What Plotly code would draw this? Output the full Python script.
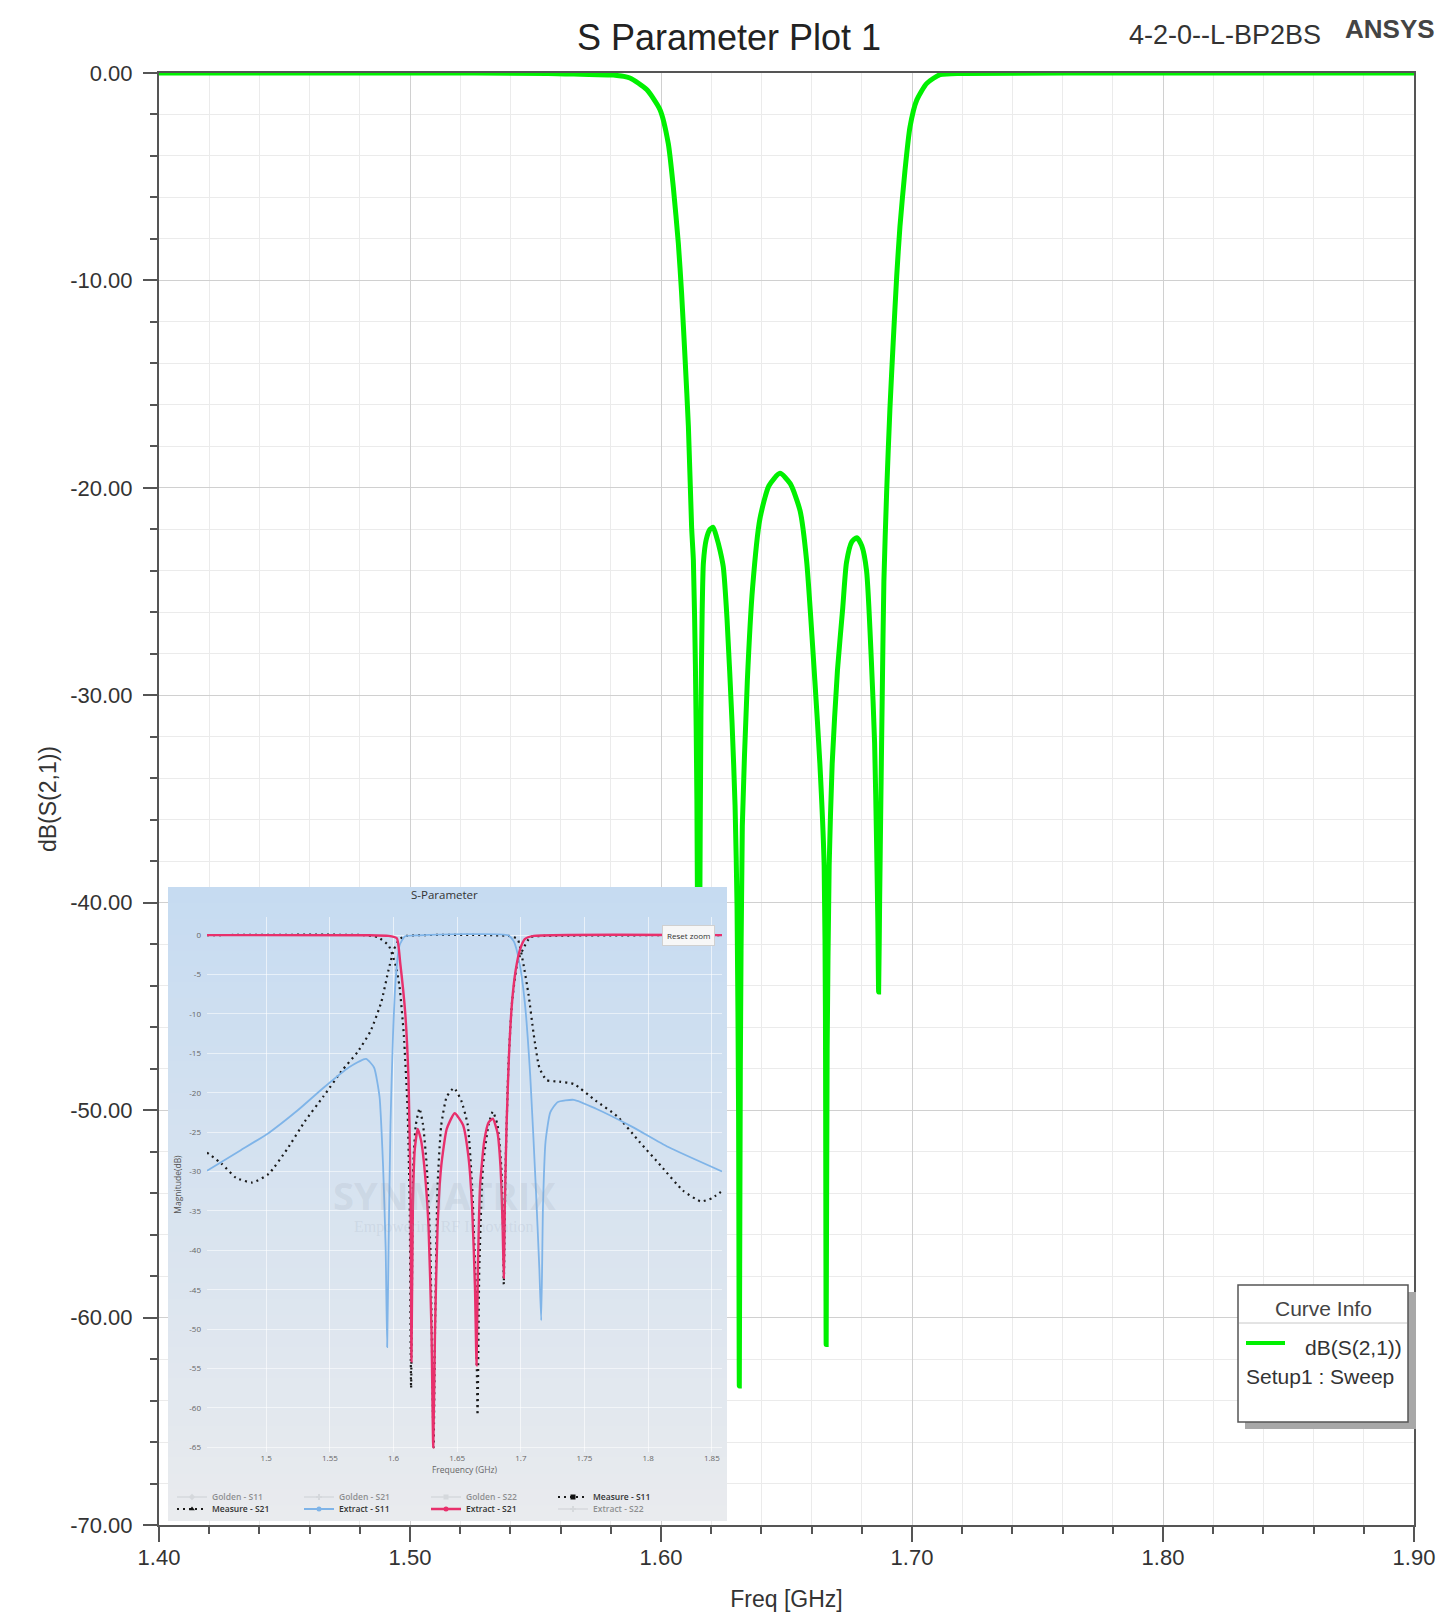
import plotly.graph_objects as go

# ---------------- data ----------------
# Main ANSYS plot: dB(S(2,1)) vs frequency
main_freq_ghz = [1.400, 1.500, 1.555, 1.568, 1.581, 1.5876, 1.5943, 1.5996, 1.6029, 1.6049,
                 1.6069, 1.6082, 1.6096, 1.6109, 1.6122, 1.6129, 1.6137, 1.6143, 1.6147, 1.6150,
                 1.6154, 1.6159, 1.6164, 1.6169, 1.6180, 1.6195, 1.6208, 1.6222, 1.6235, 1.6248,
                 1.6263, 1.6283, 1.6295, 1.6303, 1.6309, 1.6312, 1.6316, 1.6324, 1.6344, 1.6365,
                 1.6394, 1.6430, 1.6474, 1.6515, 1.6554, 1.6580, 1.6613, 1.6633, 1.6650, 1.6655,
                 1.6658, 1.6662, 1.6670, 1.6682, 1.6703, 1.6724, 1.6739, 1.6760, 1.6780, 1.6800,
                 1.6819, 1.6838, 1.6851, 1.6859, 1.6864, 1.6867, 1.6871, 1.6876, 1.6882, 1.6888,
                 1.6899, 1.6912, 1.6925, 1.6939, 1.6952, 1.6972, 1.6992, 1.7019, 1.7059, 1.7112,
                 1.7200, 1.8000, 1.9000]
main_s21_db = [0, 0, -0.02, -0.06, -0.10, -0.24, -0.8, -1.77, -3.4, -5.5,
               -8.2, -10.6, -13.8, -17.0, -21.9, -23.5, -28.5, -35.0, -45.0, -57.5,
               -42.0, -31.0, -26.0, -23.6, -22.5, -22.0, -21.9, -22.4, -23.0, -23.8,
               -26.3, -31.3, -35.3, -40.2, -50.0, -63.3, -48.0, -36.3, -29.3, -24.8,
               -21.5, -19.9, -19.3, -19.8, -21.1, -23.5, -29.3, -33.3, -38.2, -45.0,
               -61.3, -47.0, -38.2, -33.3, -28.8, -25.8, -23.6, -22.6, -22.4, -22.8,
               -24.0, -28.3, -32.3, -37.2, -41.0, -44.3, -40.0, -35.0, -29.5, -24.5,
               -20.2, -16.2, -13.0, -9.8, -7.4, -4.7, -2.6, -1.3, -0.5, -0.08,
               -0.02, 0, 0]

main_x_ticks = [1.40, 1.50, 1.60, 1.70, 1.80, 1.90]
main_x_ticklabels = ["1.40", "1.50", "1.60", "1.70", "1.80", "1.90"]
main_y_ticks = [0, -10, -20, -30, -40, -50, -60, -70]
main_y_ticklabels = ["0.00", "-10.00", "-20.00", "-30.00", "-40.00", "-50.00", "-60.00", "-70.00"]

# Inset "S-Parameter" chart
ext_s11_freq = [1.4535, 1.4800, 1.5020, 1.5250, 1.5448, 1.5648, 1.5784, 1.5847, 1.5890, 1.5918,
                1.5938, 1.5950, 1.5961, 1.5976, 1.5996, 1.6018, 1.6047, 1.6090, 1.6200, 1.6900,
                1.6945, 1.6988, 1.7031, 1.7074, 1.7117, 1.7145, 1.7160, 1.7174, 1.7194, 1.7231,
                1.7288, 1.7416, 1.7587, 1.7872, 1.8158, 1.8580]
ext_s11_db = [-29.9, -27.3, -25.1, -22.2, -19.4, -16.8, -15.7, -16.8, -20.5, -29.3,
              -39.6, -52.3, -39.6, -24.1, -12.7, -5.4, -1.3, -0.15, -0.02, -0.02,
              -0.8, -3.4, -8.5, -17.9, -31.8, -42.2, -48.9, -34.4, -26.2, -22.5,
              -21.2, -20.9, -22.0, -24.3, -26.9, -30.0]

ext_s21_freq = [1.4535, 1.5800, 1.5960, 1.6026, 1.6053, 1.6092, 1.6118, 1.6133, 1.6141, 1.6152,
                1.6167, 1.6190, 1.6218, 1.6247, 1.6275, 1.6298, 1.6312, 1.6326, 1.6346, 1.6375,
                1.6418, 1.6480, 1.6546, 1.6589, 1.6617, 1.6640, 1.6652, 1.6663, 1.6680, 1.6712,
                1.6746, 1.6780, 1.6817, 1.6840, 1.6857, 1.6866, 1.6874, 1.6888, 1.6908, 1.6931,
                1.6960, 1.6994, 1.7031, 1.7102, 1.8580]
ext_s21_db = [0, -0.02, -0.1, -0.4, -3.6, -9.9, -18.4, -32.0, -54.1, -34.4,
              -27.2, -24.6, -26.2, -30.3, -37.0, -50.0, -65.0, -50.0, -37.0, -29.3,
              -24.6, -22.6, -24.1, -28.2, -34.4, -44.8, -54.6, -42.2, -31.8, -26.2,
              -23.8, -23.3, -25.1, -29.3, -37.0, -43.5, -34.4, -24.1, -14.8, -8.5,
              -4.4, -1.8, -0.5, -0.1, 0]

meas_s21_freq = [1.4535, 1.5762, 1.5876, 1.5961, 1.6018, 1.6047, 1.6081, 1.6110, 1.6127, 1.6138,
                 1.6155, 1.6175, 1.6204, 1.6232, 1.6261, 1.6289, 1.6309, 1.6315, 1.6326, 1.6346,
                 1.6375, 1.6418, 1.6475, 1.6532, 1.6583, 1.6617, 1.6646, 1.6660, 1.6674, 1.6703,
                 1.6746, 1.6780, 1.6817, 1.6846, 1.6860, 1.6866, 1.6880, 1.6903, 1.6931, 1.6974,
                 1.7017, 1.7074, 1.7188, 1.8580]
meas_s21_db = [0, 0, -0.26, -1.3, -3.9, -6.5, -12.7, -22.0, -34.4, -57.5,
               -29.3, -24.1, -22.0, -24.1, -29.3, -39.6, -60.3, -65.0, -50.0, -31.8,
               -24.1, -20.5, -19.4, -21.0, -24.1, -31.8, -44.8, -60.9, -42.2, -29.3,
               -24.1, -22.4, -24.1, -29.3, -37.0, -44.3, -29.3, -16.3, -8.5, -3.4,
               -1.8, -0.26, -0.1, 0]

meas_s11_freq = [1.4535, 1.4649, 1.4763, 1.4892, 1.5020, 1.5163, 1.5305, 1.5448, 1.5590, 1.5719,
                 1.5819, 1.5904, 1.5961, 1.6004, 1.6047, 1.6104, 1.6903, 1.6974, 1.7017, 1.7060,
                 1.7102, 1.7145, 1.7202, 1.7302, 1.7416, 1.7587, 1.7758, 1.7930, 1.8101, 1.8272,
                 1.8414, 1.8500, 1.8571]
meas_s11_db = [-27.6, -29.0, -30.8, -31.4, -30.3, -27.2, -23.6, -20.5, -17.3, -14.8,
               -12.2, -8.5, -4.4, -1.8, -0.5, -0.1, -0.1, -0.5, -3.4, -7.5,
               -12.7, -16.8, -18.4, -18.6, -18.9, -21.0, -23.0, -26.2, -29.3, -32.4,
               -33.8, -33.4, -32.6]

inset_x_ticks = [1.50, 1.55, 1.60, 1.65, 1.70, 1.75, 1.80, 1.85]
inset_x_ticklabels = ["1.5", "1.55", "1.6", "1.65", "1.7", "1.75", "1.8", "1.85"]
inset_y_ticks = [0, -5, -10, -15, -20, -25, -30, -35, -40, -45, -50, -55, -60, -65]
inset_y_ticklabels = ["0", "-5", "-10", "-15", "-20", "-25", "-30", "-35", "-40", "-45",
                      "-50", "-55", "-60", "-65"]

# ---------------- geometry helpers (pixels -> paper) ----------------
W, H = 1439, 1617
PL, PR, PT, PB = 159, 1414, 73, 1525


def fx(px):
    return (px - PL) / (PR - PL)


def fy(py):
    return (PB - py) / (PB - PT)


MAIN_FONT = "Liberation Sans, Arial, sans-serif"
INSET_FONT = "Open Sans, sans-serif"

fig = go.Figure()

# main curve
fig.add_trace(go.Scatter(x=main_freq_ghz, y=main_s21_db, mode="lines", name="dB(S(2,1))",
                         line=dict(color="#00f000", width=5, shape="spline", smoothing=0.6),
                         showlegend=False, xaxis="x", yaxis="y", hoverinfo="x+y"))

# empty trace to create the inset panel subplot (background)
fig.add_trace(go.Scatter(x=[], y=[], xaxis="x2", yaxis="y2", showlegend=False, hoverinfo="skip"))

# styles of the inset series
GHOST = "#c4c8cc"
MEAS_LINE = dict(color="#1a1a1a", width=2.2, dash="2px,4px")
S11_LINE = dict(color="#7fb4e8", width=1.8)
S21_LINE = dict(color="#e8306c", width=2.4)

# inset data series (drawn in legend order, entries shown through legend items below)
fig.add_trace(go.Scatter(x=meas_s11_freq, y=meas_s11_db, name="Measure - S11", legendgroup="m11",
                         showlegend=False, mode="lines", line=dict(**MEAS_LINE, shape="spline", smoothing=0.5),
                         xaxis="x3", yaxis="y3"))
fig.add_trace(go.Scatter(x=meas_s21_freq, y=meas_s21_db, name="Measure - S21", legendgroup="m21",
                         showlegend=False, mode="lines", line=dict(**MEAS_LINE, shape="spline", smoothing=0.5),
                         xaxis="x3", yaxis="y3"))
fig.add_trace(go.Scatter(x=ext_s11_freq, y=ext_s11_db, name="Extract - S11", legendgroup="e11",
                         showlegend=False, mode="lines", line=dict(**S11_LINE, shape="spline", smoothing=0.5),
                         xaxis="x3", yaxis="y3"))
fig.add_trace(go.Scatter(x=ext_s21_freq, y=ext_s21_db, name="Extract - S21", legendgroup="e21",
                         showlegend=False, mode="lines", line=dict(**S21_LINE, shape="spline", smoothing=0.5),
                         xaxis="x3", yaxis="y3"))

# inset legend entries (row 1 -> legend2, row 2 -> legend3)
legend_items = [
    ("Golden - S11", "legendonly", "legend2", "g11", dict(color=GHOST, width=1.5), "diamond", GHOST),
    ("Golden - S21", "legendonly", "legend2", "g21", dict(color=GHOST, width=1.5), "cross", GHOST),
    ("Golden - S22", "legendonly", "legend2", "g22", dict(color=GHOST, width=1.5), "square", GHOST),
    ("Measure - S11", True, "legend2", "m11", MEAS_LINE, "square", "#111"),
    ("Measure - S21", True, "legend3", "m21", MEAS_LINE, "triangle-up", "#111"),
    ("Extract - S11", True, "legend3", "e11", S11_LINE, "circle", "#7fb4e8"),
    ("Extract - S21", True, "legend3", "e21", S21_LINE, "circle", "#e8306c"),
    ("Extract - S22", "legendonly", "legend3", "e22", dict(color=GHOST, width=1.5), "cross", GHOST),
]
for name, vis, leg, grp, line, sym, mcol in legend_items:
    fig.add_trace(go.Scatter(x=[None], y=[None], name=name, visible=vis, legend=leg, legendgroup=grp,
                             mode="lines+markers", line=line,
                             marker=dict(symbol=sym, size=5, color=mcol),
                             xaxis="x3", yaxis="y3", hoverinfo="skip"))

# ---------------- shapes ----------------
shapes = []
# inset gradient background (drawn in the inset panel subplot)
N = 40
top_rgb = (198, 219, 241)
bot_rgb = (233, 235, 238)
for i in range(N):
    y0 = i / N
    y1 = min(1.0, (i + 1) / N + 0.002)
    t = (i + 0.5) / N  # 0 at bottom, 1 at top
    c = tuple(round(bot_rgb[k] + (top_rgb[k] - bot_rgb[k]) * t) for k in range(3))
    shapes.append(dict(type="rect", xref="x2", yref="y2", x0=0, x1=1, y0=y0, y1=y1,
                       fillcolor="rgb(%d,%d,%d)" % c, line=dict(width=0), layer="below"))

# "Curve Info" legend box
shapes.append(dict(type="rect", xref="paper", yref="paper", x0=fx(1245), x1=fx(1416),
                   y0=fy(1429), y1=fy(1292), fillcolor="#a8a8a8", line=dict(width=0), layer="above"))
shapes.append(dict(type="rect", xref="paper", yref="paper", x0=fx(1238), x1=fx(1408),
                   y0=fy(1422), y1=fy(1285), fillcolor="white", line=dict(color="#555", width=1.5),
                   layer="above"))
shapes.append(dict(type="line", xref="paper", yref="paper", x0=fx(1239), x1=fx(1407),
                   y0=fy(1323), y1=fy(1323), line=dict(color="#c8c8c8", width=1), layer="above"))
shapes.append(dict(type="line", xref="paper", yref="paper", x0=fx(1246), x1=fx(1285),
                   y0=fy(1343), y1=fy(1343), line=dict(color="#00f000", width=4), layer="above"))

# ---------------- annotations ----------------
ann = []
ann.append(dict(text="4-2-0--L-BP2BS", xref="paper", yref="paper", x=fx(1127), y=fy(35),
                xanchor="left", yanchor="middle", showarrow=False,
                font=dict(family=MAIN_FONT, size=27, color="#333")))
ann.append(dict(text="<b>ANSYS</b>", xref="paper", yref="paper", x=fx(1343), y=fy(29),
                xanchor="left", yanchor="middle", showarrow=False,
                font=dict(family=MAIN_FONT, size=26, color="#444")))
ann.append(dict(text="Curve Info", xref="paper", yref="paper", x=fx(1323), y=fy(1308),
                xanchor="center", yanchor="middle", showarrow=False,
                font=dict(family=MAIN_FONT, size=21, color="#444")))
ann.append(dict(text="dB(S(2,1))", xref="paper", yref="paper", x=fx(1404), y=fy(1347),
                xanchor="right", yanchor="middle", showarrow=False,
                font=dict(family=MAIN_FONT, size=21, color="#333")))
ann.append(dict(text="Setup1 : Sweep", xref="paper", yref="paper", x=fx(1244), y=fy(1376),
                xanchor="left", yanchor="middle", showarrow=False,
                font=dict(family=MAIN_FONT, size=21, color="#333")))
# inset texts
ann.append(dict(text="S-Parameter", xref="paper", yref="paper", x=fx(444), y=fy(894),
                xanchor="center", yanchor="middle", showarrow=False,
                font=dict(family=INSET_FONT, size=11.5, color="#333")))
ann.append(dict(text="<b>SYNMATRIX</b>", xref="paper", yref="paper", x=fx(444), y=fy(1195),
                xanchor="center", yanchor="middle", showarrow=False,
                font=dict(family=INSET_FONT, size=38, color="rgba(150,160,175,0.18)")))
ann.append(dict(text="Empowering RF Innovation", xref="paper", yref="paper", x=fx(444), y=fy(1227),
                xanchor="center", yanchor="middle", showarrow=False,
                font=dict(family="Liberation Serif, serif", size=16, color="rgba(150,160,175,0.18)")))
ann.append(dict(text="Reset zoom", xref="paper", yref="paper", x=fx(688), y=fy(935),
                xanchor="center", yanchor="middle", showarrow=False,
                bgcolor="#f7f7f7", bordercolor="#d0d0d0", borderwidth=1, borderpad=4,
                font=dict(family=INSET_FONT, size=8, color="#333")))

inset_tickfont = dict(family=INSET_FONT, size=8, color="#666")
legend_common = dict(orientation="h", xanchor="left", yanchor="middle", bgcolor="rgba(0,0,0,0)",
                     borderwidth=0, font=dict(family=INSET_FONT, size=8.5, color="#333", weight=600),
                     entrywidth=82, entrywidthmode="pixels", itemwidth=30, traceorder="normal",
                     tracegroupgap=0, itemclick=False, itemdoubleclick=False)

fig.update_layout(
    width=W, height=H, autosize=False,
    margin=dict(l=PL, r=W - PR, t=PT, b=H - PB, pad=0),
    paper_bgcolor="white", plot_bgcolor="rgba(0,0,0,0)",
    font=dict(family=MAIN_FONT, size=22, color="#333"),
    title=dict(text="S Parameter Plot 1", xref="container", yref="container",
               x=729 / W, xanchor="center", y=1 - 37 / H, yanchor="middle",
               font=dict(family=MAIN_FONT, size=36, color="#222")),
    showlegend=True,
    legend=dict(visible=False),
    legend2=dict(x=fx(172), y=fy(1497), **legend_common),
    legend3=dict(x=fx(172), y=fy(1509), **legend_common),
    xaxis=dict(domain=[0, 1], range=[1.4, 1.9], anchor="y",
               tickmode="array", tickvals=main_x_ticks, ticktext=main_x_ticklabels,
               ticks="outside", ticklen=15, tickwidth=2, tickcolor="#555",
               tickfont=dict(size=22, color="#333"), ticklabelstandoff=-3,
               showline=True, linecolor="#555", linewidth=2, mirror=True,
               showgrid=True, gridcolor="#d0d0d0", gridwidth=1, zeroline=False,
               minor=dict(tickmode="linear", tick0=1.4, dtick=0.02, ticks="outside", ticklen=7,
                          tickwidth=1.5, tickcolor="#555", showgrid=True, gridcolor="#ebebeb",
                          gridwidth=1),
               title=dict(text="Freq [GHz]", font=dict(size=23, color="#333"), standoff=21),
               automargin=False, fixedrange=True),
    yaxis=dict(domain=[0, 1], range=[-70, 0], anchor="x",
               tickmode="array", tickvals=main_y_ticks, ticktext=main_y_ticklabels,
               ticks="outside", ticklen=14, tickwidth=2, tickcolor="#555",
               tickfont=dict(size=22, color="#333"), ticklabelstandoff=6,
               showline=True, linecolor="#555", linewidth=2, mirror=True,
               showgrid=True, gridcolor="#d0d0d0", gridwidth=1, zeroline=False,
               minor=dict(tickmode="linear", tick0=0, dtick=2, ticks="outside", ticklen=7,
                          tickwidth=1.5, tickcolor="#555", showgrid=True, gridcolor="#ebebeb",
                          gridwidth=1),
               title=dict(text="dB(S(2,1))", font=dict(size=23, color="#333"), standoff=7),
               automargin=False, fixedrange=True),
    xaxis2=dict(domain=[fx(168), fx(727)], range=[0, 1], anchor="y2", visible=False, fixedrange=True),
    yaxis2=dict(domain=[fy(1521), fy(887)], range=[0, 1], anchor="x2", visible=False, fixedrange=True),
    xaxis3=dict(domain=[fx(207), fx(722)], range=[1.4535, 1.858], anchor="y3",
                tickmode="array", tickvals=inset_x_ticks, ticktext=inset_x_ticklabels,
                ticks="", showline=False, zeroline=False, showgrid=True,
                gridcolor="rgba(255,255,255,0.6)", gridwidth=1, tickfont=inset_tickfont,
                ticklabelstandoff=0,
                title=dict(text="Frequency (GHz)", font=dict(family=INSET_FONT, size=8.5, color="#666"),
                           standoff=5),
                automargin=False, fixedrange=True),
    yaxis3=dict(domain=[fy(1452), fy(917)], range=[-65.6, 2.3], anchor="x3",
                tickmode="array", tickvals=inset_y_ticks, ticktext=inset_y_ticklabels,
                ticks="", showline=False, zeroline=False, showgrid=True,
                gridcolor="rgba(255,255,255,0.55)", gridwidth=1, tickfont=inset_tickfont,
                ticklabelstandoff=5,
                title=dict(text="Magnitude(dB)", font=dict(family=INSET_FONT, size=8.5, color="#555"),
                           standoff=6),
                automargin=False, fixedrange=True),
    shapes=shapes,
    annotations=ann,
)

fig.write_html("out.html", config={"displayModeBar": False})
